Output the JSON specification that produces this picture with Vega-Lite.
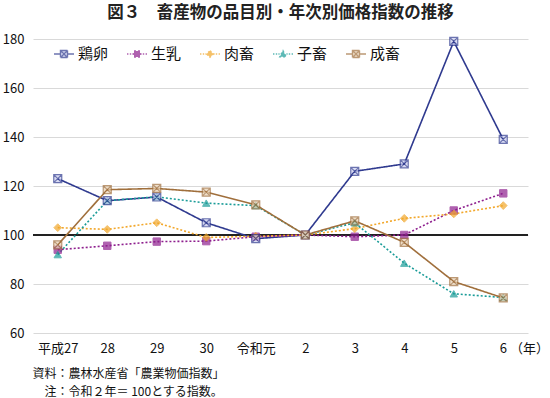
{
  "$schema": "https://vega.github.io/schema/vega-lite/v6.json",
  "width": 495,
  "height": 294,
  "autosize": {"type": "none"},
  "padding": {"left": 33, "top": 39, "right": 22, "bottom": 65},
  "background": "white",
  "title": {
    "text": "図３　畜産物の品目別・年次別価格指数の推移",
    "font": "Noto Sans CJK JP",
    "fontSize": 16.5,
    "fontWeight": "bold",
    "color": "#222222",
    "anchor": "middle",
    "baseline": "alphabetic",
    "offset": -1
  },
  "config": {
    "font": "Noto Sans CJK JP",
    "view": {"stroke": null}
  },
  "data": {
    "values": [
      {"year": "平成27", "item": "鶏卵", "value": 123},
      {"year": "28", "item": "鶏卵", "value": 114},
      {"year": "29", "item": "鶏卵", "value": 115.5},
      {"year": "30", "item": "鶏卵", "value": 105},
      {"year": "令和元", "item": "鶏卵", "value": 98.5},
      {"year": "2", "item": "鶏卵", "value": 100},
      {"year": "3", "item": "鶏卵", "value": 126},
      {"year": "4", "item": "鶏卵", "value": 129},
      {"year": "5", "item": "鶏卵", "value": 179},
      {"year": "6", "item": "鶏卵", "value": 139},
      {"year": "平成27", "item": "生乳", "value": 94},
      {"year": "28", "item": "生乳", "value": 95.6},
      {"year": "29", "item": "生乳", "value": 97.3},
      {"year": "30", "item": "生乳", "value": 97.5},
      {"year": "令和元", "item": "生乳", "value": 99.3},
      {"year": "2", "item": "生乳", "value": 100},
      {"year": "3", "item": "生乳", "value": 99.3},
      {"year": "4", "item": "生乳", "value": 100},
      {"year": "5", "item": "生乳", "value": 110},
      {"year": "6", "item": "生乳", "value": 117},
      {"year": "平成27", "item": "肉畜", "value": 103},
      {"year": "28", "item": "肉畜", "value": 102.3},
      {"year": "29", "item": "肉畜", "value": 105},
      {"year": "30", "item": "肉畜", "value": 99},
      {"year": "令和元", "item": "肉畜", "value": 99.5},
      {"year": "2", "item": "肉畜", "value": 100},
      {"year": "3", "item": "肉畜", "value": 102.6},
      {"year": "4", "item": "肉畜", "value": 106.8},
      {"year": "5", "item": "肉畜", "value": 108.6},
      {"year": "6", "item": "肉畜", "value": 112},
      {"year": "平成27", "item": "子畜", "value": 92},
      {"year": "28", "item": "子畜", "value": 114},
      {"year": "29", "item": "子畜", "value": 115.6},
      {"year": "30", "item": "子畜", "value": 113},
      {"year": "令和元", "item": "子畜", "value": 112},
      {"year": "2", "item": "子畜", "value": 100},
      {"year": "3", "item": "子畜", "value": 105},
      {"year": "4", "item": "子畜", "value": 88.5},
      {"year": "5", "item": "子畜", "value": 76},
      {"year": "6", "item": "子畜", "value": 74.5},
      {"year": "平成27", "item": "成畜", "value": 96},
      {"year": "28", "item": "成畜", "value": 118.5},
      {"year": "29", "item": "成畜", "value": 119},
      {"year": "30", "item": "成畜", "value": 117.5},
      {"year": "令和元", "item": "成畜", "value": 112.3},
      {"year": "2", "item": "成畜", "value": 100},
      {"year": "3", "item": "成畜", "value": 105.8},
      {"year": "4", "item": "成畜", "value": 97},
      {"year": "5", "item": "成畜", "value": 81},
      {"year": "6", "item": "成畜", "value": 74.3}
    ]
  },
  "encoding": {
    "x": {
      "field": "year",
      "type": "ordinal",
      "scale": {"type": "point", "padding": 0.5, "domain": ["平成27", "28", "29", "30", "令和元", "2", "3", "4", "5", "6"]},
      "axis": {
        "domain": false,
        "ticks": false,
        "grid": false,
        "labelAngle": 0,
        "labelFontSize": 13,
        "labelColor": "#111111",
        "labelPadding": 9,
        "labelExpr": "datum.value == '6' ? '6 （年）' : datum.value",
        "labelAlign": {"condition": {"test": "datum.value == '6'", "value": "left"}, "value": "center"},
        "labelOffset": {"condition": {"test": "datum.value == '6'", "value": -4}, "value": 0},
        "title": ["資料：農林水産省「農業物価指数」", "\u200b　注：令和２年＝ 100とする指数。"],
        "titleFontSize": 12,
        "titleFontWeight": "normal",
        "titleColor": "#111111",
        "titleAnchor": "start",
        "titleAlign": "left",
        "titleBaseline": "top",
        "titleX": -1,
        "titleY": 35,
        "titleLineHeight": 18
      }
    },
    "y": {
      "field": "value",
      "type": "quantitative",
      "scale": {"domain": [60, 180], "nice": false, "zero": false},
      "axis": {
        "values": [60, 80, 100, 120, 140, 160, 180],
        "domain": false,
        "ticks": false,
        "gridColor": "#d9d9d9",
        "gridWidth": 1.2,
        "labelFontSize": 13,
        "labelColor": "#111111",
        "labelPadding": 9,
        "title": null
      }
    },
    "stroke": {
      "field": "item",
      "type": "nominal",
      "scale": {"domain": ["鶏卵", "生乳", "肉畜", "子畜", "成畜"], "range": ["#2f3a8f", "#8e1f8e", "#f2a72a", "#1a9c98", "#a06f3c"]}
    }
  },
  "layer": [
    {
      "mark": {"type": "rule", "color": "#222222", "strokeWidth": 2},
      "encoding": {"y": {"datum": 100}, "x": null, "stroke": null}
    },
    {
      "mark": {"type": "line", "strokeWidth": 1.6},
      "encoding": {
        "strokeDash": {
          "field": "item",
          "type": "nominal",
          "scale": {"domain": ["鶏卵", "生乳", "肉畜", "子畜", "成畜"], "range": [[1, 0], [2, 2], [2, 2], [2, 2], [1, 0]]},
          "legend": null
        }
      }
    },
    {
      "transform": [{"filter": {"field": "item", "oneOf": ["生乳"]}}],
      "mark": {"type": "point", "filled": true, "shape": "square", "size": 55, "strokeWidth": 1, "fill": "#8e1f8e"}
    },
    {
      "transform": [{"filter": {"field": "item", "oneOf": ["肉畜"]}}],
      "mark": {"type": "point", "filled": true, "shape": "diamond", "size": 60, "strokeWidth": 1, "fill": "#f2a72a"}
    },
    {
      "transform": [{"filter": {"field": "item", "oneOf": ["子畜"]}}],
      "mark": {"type": "point", "filled": true, "shape": "triangle-up", "size": 55, "strokeWidth": 1, "fill": "#1a9c98"}
    },
    {
      "transform": [{"filter": {"field": "item", "oneOf": ["鶏卵"]}}],
      "mark": {"type": "point", "filled": true, "shape": "M-1,-1H1V1H-1ZM-1,-1L1,1M1,-1L-1,1", "size": 64, "strokeWidth": 1.2, "fill": "#c9cdee"}
    },
    {
      "transform": [{"filter": {"field": "item", "oneOf": ["成畜"]}}],
      "mark": {"type": "point", "filled": true, "shape": "M-1,-1H1V1H-1ZM-1,-1L1,1M1,-1L-1,1", "size": 64, "strokeWidth": 1.2, "fill": "#e9d2b4"}
    },
    {
      "mark": {"type": "point", "filled": true, "size": 0, "strokeWidth": 1.4},
      "encoding": {
        "stroke": {
          "field": "item",
          "type": "nominal",
          "legend": {
            "title": null,
            "orient": "none",
            "direction": "horizontal",
            "legendX": 20,
            "legendY": 4,
            "padding": 0,
            "labelFontSize": 15,
            "labelColor": "#111111",
            "labelOffset": 3,
            "columnPadding": 15,
            "symbolSize": 400,
            "symbolStrokeWidth": 1.4
          }
        },
        "fill": {
          "field": "item",
          "type": "nominal",
          "scale": {"domain": ["鶏卵", "生乳", "肉畜", "子畜", "成畜"], "range": ["#c9cdee", "#8e1f8e", "#f2a72a", "#1a9c98", "#e9d2b4"]},
          "legend": {
            "title": null,
            "orient": "none",
            "direction": "horizontal",
            "legendX": 20,
            "legendY": 4,
            "padding": 0,
            "labelFontSize": 15,
            "labelColor": "#111111",
            "labelOffset": 3,
            "columnPadding": 15,
            "symbolSize": 400,
            "symbolStrokeWidth": 1.4
          }
        },
        "shape": {
          "field": "item",
          "type": "nominal",
          "scale": {
            "domain": ["鶏卵", "生乳", "肉畜", "子畜", "成畜"],
            "range": [
              "M-1,0H-0.35M0.35,0H1M-0.35,-0.35H0.35V0.35H-0.35ZM-0.35,-0.35L0.35,0.35M0.35,-0.35L-0.35,0.35",
              "M-1,0H-0.86M-0.72,0H-0.58M-0.46,0H-0.34M0.34,0H0.46M0.58,0H0.72M0.86,0H1M-0.3,-0.3H0.3V0.3H-0.3Z",
              "M-1,0H-0.86M-0.72,0H-0.58M-0.46,0H-0.34M0.34,0H0.46M0.58,0H0.72M0.86,0H1M0,-0.33L0.33,0L0,0.33L-0.33,0Z",
              "M-1,0H-0.86M-0.72,0H-0.58M-0.46,0H-0.34M0.34,0H0.46M0.58,0H0.72M0.86,0H1M0,-0.33L0.32,0.28H-0.32Z",
              "M-1,0H-0.35M0.35,0H1M-0.35,-0.35H0.35V0.35H-0.35ZM-0.35,-0.35L0.35,0.35M0.35,-0.35L-0.35,0.35"
            ]
          },
          "legend": {
            "title": null,
            "orient": "none",
            "direction": "horizontal",
            "legendX": 20,
            "legendY": 4,
            "padding": 0,
            "labelFontSize": 15,
            "labelColor": "#111111",
            "labelOffset": 3,
            "columnPadding": 15,
            "symbolSize": 400,
            "symbolStrokeWidth": 1.4
          }
        }
      }
    }
  ]
}
